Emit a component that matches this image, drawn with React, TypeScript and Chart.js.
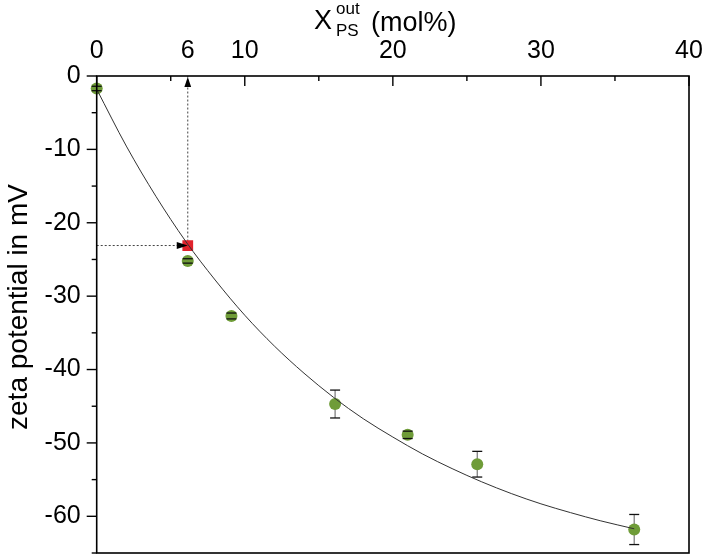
import React, { useEffect, useRef } from 'react';
import { Chart, registerables } from 'chart.js';

Chart.register(...registerables);

// ---- data ----
const X_PS = [0, 6.15, 9.1, 16.1, 21.0, 25.7, 36.3];
const ZETA = [-1.7, -25.2, -32.7, -44.7, -48.9, -52.9, -61.8];
const ZETA_ERR = [0.3, 0.3, 0.4, 1.9, 0.5, 1.75, 2.05];

const MARK_X = 6.15;
const MARK_Y = -23.1;

const FIT_X = [0, 2, 4, 6, 8, 10, 12, 14, 16, 18, 20, 22, 24, 26, 28, 30, 32, 34, 36.3];
const FIT_Y = [-1.8, -9.55, -16.4, -22.5, -27.8, -32.6, -36.8, -40.5, -43.8, -46.7, -49.2, -51.5, -53.5, -55.3, -56.9, -58.3, -59.5, -60.6, -61.7];

const X_TICK_VALUES = [0, MARK_X, 10, 20, 30, 40];
const X_TICK_LABELS = ['0', '6', '10', '20', '30', '40'];
const X_MAJOR = [0, 10, 20, 30, 40];
const X_MINOR = [5, 15, 25, 35];
const Y_TICKS = [0, -10, -20, -30, -40, -50, -60];
const Y_MINOR = [-5, -15, -25, -35, -45, -55, -65];

const FONT = '"Liberation Sans", Arial, sans-serif';
const GREEN = '#6f9c38';
const RED = '#e1222b';

const zeroPad = (s: any) => {
  s.paddingLeft = 0;
  s.paddingRight = 0;
  s.paddingTop = 0;
  s.paddingBottom = 0;
};

const decor = {
  id: 'decor',
  beforeDatasetsDraw(chart: any) {
    const { ctx } = chart;
    const xs = chart.scales.x;
    const ys = chart.scales.y;
    ctx.save();
    ctx.strokeStyle = '#777';
    ctx.lineWidth = 1.2;
    X_PS.forEach((xv, i) => {
      const px = xs.getPixelForValue(xv);
      ctx.beginPath();
      ctx.moveTo(px, ys.getPixelForValue(ZETA[i] + ZETA_ERR[i]));
      ctx.lineTo(px, ys.getPixelForValue(ZETA[i] - ZETA_ERR[i]));
      ctx.stroke();
    });
    ctx.restore();
  },
  afterDatasetsDraw(chart: any) {
    const { ctx, chartArea: a } = chart;
    const xs = chart.scales.x;
    const ys = chart.scales.y;
    ctx.save();
    // error caps
    ctx.strokeStyle = '#111';
    ctx.lineWidth = 1.3;
    X_PS.forEach((xv, i) => {
      const px = xs.getPixelForValue(xv);
      [ZETA[i] + ZETA_ERR[i], ZETA[i] - ZETA_ERR[i]].forEach((v) => {
        const py = ys.getPixelForValue(v);
        ctx.beginPath();
        ctx.moveTo(px - 5, py);
        ctx.lineTo(px + 5, py);
        ctx.stroke();
      });
    });
    // arrowheads
    const mx = xs.getPixelForValue(MARK_X);
    const my = ys.getPixelForValue(MARK_Y);
    ctx.fillStyle = '#000';
    ctx.beginPath();
    ctx.moveTo(mx, my);
    ctx.lineTo(mx - 11, my - 3.5);
    ctx.lineTo(mx - 11, my + 3.5);
    ctx.closePath();
    ctx.fill();
    const ty = ys.getPixelForValue(0);
    ctx.beginPath();
    ctx.moveTo(mx, ty + 1);
    ctx.lineTo(mx - 3.4, ty + 11);
    ctx.lineTo(mx + 3.4, ty + 11);
    ctx.closePath();
    ctx.fill();
    // frame
    ctx.strokeStyle = '#000';
    ctx.lineWidth = 1.6;
    ctx.strokeRect(a.left, a.top, a.right - a.left, a.bottom - a.top);
    // ticks
    ctx.lineWidth = 1.4;
    const tick = (x1: number, y1: number, x2: number, y2: number) => {
      ctx.beginPath();
      ctx.moveTo(x1, y1);
      ctx.lineTo(x2, y2);
      ctx.stroke();
    };
    X_MAJOR.forEach((v) => { const p = xs.getPixelForValue(v); tick(p, a.top, p, a.top + 10); });
    X_MINOR.forEach((v) => { const p = xs.getPixelForValue(v); tick(p, a.top, p, a.top + 5); });
    Y_TICKS.forEach((v) => { const p = ys.getPixelForValue(v); tick(a.left - 10, p, a.left, p); });
    Y_MINOR.forEach((v) => { const p = ys.getPixelForValue(v); tick(a.left - 5, p, a.left, p); });
    ctx.restore();
  },
  afterDraw(chart: any) {
    const { ctx } = chart;
    ctx.save();
    ctx.fillStyle = '#000';
    ctx.textBaseline = 'alphabetic';
    ctx.textAlign = 'left';
    ctx.font = `27px ${FONT}`;
    ctx.fillText('X', 314, 28.5);
    ctx.font = `17px ${FONT}`;
    ctx.fillText('out', 336, 13.5);
    ctx.fillText('PS', 336, 36);
    ctx.font = `27px ${FONT}`;
    ctx.fillText('(mol%)', 371, 31);
    // y title
    ctx.translate(27, 307);
    ctx.rotate(-Math.PI / 2);
    ctx.textAlign = 'center';
    ctx.font = `28px ${FONT}`;
    ctx.fillText('zeta potential in mV', 0, 0);
    ctx.restore();
  },
};

export default function App() {
  const ref = useRef<HTMLCanvasElement | null>(null);
  useEffect(() => {
    if (!ref.current) return;
    const chart = new Chart(ref.current, {
      type: 'scatter',
      data: {
        datasets: [
          {
            label: 'fit',
            data: FIT_X.map((x, i) => ({ x, y: FIT_Y[i] })),
            showLine: true,
            pointRadius: 0,
            borderColor: '#333',
            borderWidth: 1,
            cubicInterpolationMode: 'monotone',
            order: 0,
          },
          {
            label: 'marked',
            data: [{ x: MARK_X, y: MARK_Y }],
            pointStyle: 'rect',
            pointRadius: 7.6,
            backgroundColor: RED,
            borderWidth: 0,
            order: 1,
          },
          {
            label: 'zeta',
            data: X_PS.map((x, i) => ({ x, y: ZETA[i] })),
            pointRadius: 6,
            backgroundColor: GREEN,
            borderWidth: 0,
            clip: false,
            order: 2,
          },
          {
            label: 'guideH',
            data: [{ x: 0, y: MARK_Y }, { x: MARK_X - 0.7, y: MARK_Y }],
            showLine: true,
            pointRadius: 0,
            borderColor: '#444',
            borderWidth: 1,
            borderDash: [2, 2],
            order: 3,
          },
          {
            label: 'guideV',
            data: [{ x: MARK_X, y: MARK_Y }, { x: MARK_X, y: 0 }],
            showLine: true,
            pointRadius: 0,
            borderColor: '#444',
            borderWidth: 1,
            borderDash: [2, 2],
            order: 3,
          },
        ] as any,
      },
      options: {
        animation: false,
        responsive: false,
        devicePixelRatio: 1,
        layout: { autoPadding: false, padding: { left: 0, top: 0, right: 16, bottom: 4 } },
        plugins: { legend: { display: false }, tooltip: { enabled: false } },
        scales: {
          x: {
            type: 'linear',
            position: 'top',
            min: 0,
            max: 40,
            afterBuildTicks: (s: any) => { s.ticks = X_TICK_VALUES.map((v) => ({ value: v })); },
            afterFit: (s: any) => { s.height = 76; zeroPad(s); },
            ticks: {
              callback: (_v: any, i: number) => X_TICK_LABELS[i],
              font: { family: FONT, size: 25 },
              color: '#000',
              padding: 10,
              maxRotation: 0,
              autoSkip: false,
            },
            grid: { display: false, drawTicks: false },
            border: { display: false },
          },
          y: {
            type: 'linear',
            min: -65,
            max: 0,
            afterBuildTicks: (s: any) => { s.ticks = Y_TICKS.map((v) => ({ value: v })); },
            afterFit: (s: any) => { s.width = 96.7; zeroPad(s); },
            ticks: {
              callback: (v: any) => String(v),
              font: { family: FONT, size: 25 },
              color: '#000',
              padding: 16,
              autoSkip: false,
            },
            grid: { display: false, drawTicks: false },
            border: { display: false },
          },
        },
      } as any,
      plugins: [decor],
    });
    return () => chart.destroy();
  }, []);
  return (
    <div style={{ position: 'fixed', left: 0, top: 0, width: 705, height: 557, background: '#fff' }}>
      <canvas ref={ref} width={705} height={557} />
    </div>
  );
}
